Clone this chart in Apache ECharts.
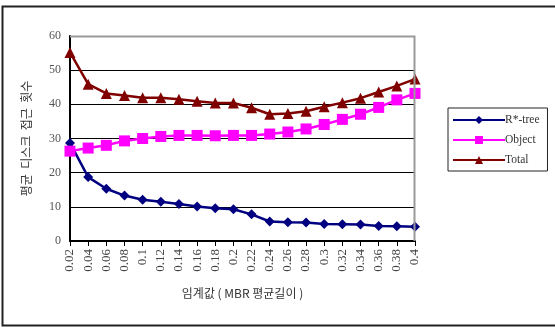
<!DOCTYPE html>
<html>
<head>
<meta charset="utf-8">
<script src="https://cdn.jsdelivr.net/npm/echarts@6/dist/echarts.min.js"></script>
<style>
  html, body { margin: 0; padding: 0; background: #fff; }
  #chart { width: 555px; height: 327px; }
</style>
</head>
<body>
<div id="chart"></div>
<script>
// 임계값 (x 축)
var thresholds = ['0.02','0.04','0.06','0.08','0.1','0.12','0.14','0.16','0.18','0.2',
                  '0.22','0.24','0.26','0.28','0.3','0.32','0.34','0.36','0.38','0.4'];
var rtree  = [28.7, 18.7, 15.3, 13.3, 12.1, 11.5, 10.8, 10.1, 9.6, 9.3,
              7.8, 5.7, 5.5, 5.4, 5.0, 4.9, 4.8, 4.4, 4.3, 4.2];
var object = [26.3, 27.2, 28.0, 29.3, 30.0, 30.6, 30.9, 30.9, 30.8, 30.9,
              30.9, 31.3, 31.9, 32.8, 34.1, 35.6, 37.1, 39.1, 41.3, 43.2];
var total  = [55.2, 45.9, 43.2, 42.6, 41.9, 41.9, 41.5, 40.9, 40.4, 40.4,
              39.0, 37.1, 37.3, 38.0, 39.3, 40.5, 41.8, 43.6, 45.4, 47.4];

var serif = 'Liberation Serif';
var kr = 'Noto Sans CJK KR';

var chart = echarts.init(document.getElementById('chart'));

function line(name, data, color, symbol, size) {
  return {
    name: name, type: 'line', data: data,
    symbol: symbol, symbolSize: size,
    lineStyle: { color: color, width: 2.5 },
    itemStyle: { color: color },
    animation: false
  };
}

chart.setOption({
  animation: false,
  graphic: [
    // 바깥 테두리
    { type: 'rect', shape: { x: 2.5, y: 6.5, width: 560, height: 319 },
      style: { fill: 'none', stroke: '#222', lineWidth: 2 }, silent: true },
    // 플롯 영역 테두리 (위/오른쪽 회색)
    { type: 'polyline', shape: { points: [[70, 36.5], [414.5, 36.5], [414.5, 241]] },
      style: { stroke: '#999', lineWidth: 2, fill: null }, silent: true, z: 10 }
  ],
  grid: { left: 70, right: 140, top: 36, bottom: 86 },
  legend: {
    orient: 'vertical', left: 448, top: 108,
    itemWidth: 52, itemHeight: 10, itemGap: 8,
    padding: [6, 8, 5, 4],
    borderColor: '#222', borderWidth: 1,
    textStyle: { fontFamily: serif, fontSize: 11.5, color: '#333', padding: [0, 0, 0, -5] },
    data: ['R*-tree', 'Object', 'Total']
  },
  xAxis: {
    type: 'category', data: thresholds, boundaryGap: false,
    name: '임계값 ( MBR 평균길이 )', nameLocation: 'middle', nameGap: 46,
    nameTextStyle: { fontFamily: kr, fontSize: 12, color: '#333' },
    axisLine: { lineStyle: { color: '#000', width: 2 } },
    axisTick: { show: true, alignWithLabel: true, length: 5, lineStyle: { color: '#000' } },
    axisLabel: { rotate: 90, interval: 0, fontFamily: serif, fontSize: 13, color: '#444', margin: 8 },
    splitLine: { show: false }
  },
  yAxis: {
    type: 'value', min: 0, max: 60, interval: 10,
    name: '평균  디스크  접근  횟수', nameLocation: 'middle', nameGap: 38,
    nameTextStyle: { fontFamily: kr, fontSize: 12, color: '#333' },
    axisLine: { show: true, lineStyle: { color: '#000', width: 2 } },
    axisTick: { show: false },
    axisLabel: { fontFamily: serif, fontSize: 12, color: '#555', margin: 9 },
    splitLine: { lineStyle: { color: '#000', width: 1 } }
  },
  series: [
    line('R*-tree', rtree, '#000080', 'diamond', 10),
    line('Object', object, '#ff00ff', 'rect', 11),
    line('Total', total, '#800000', 'triangle', 11)
  ]
});
</script>
</body>
</html>
